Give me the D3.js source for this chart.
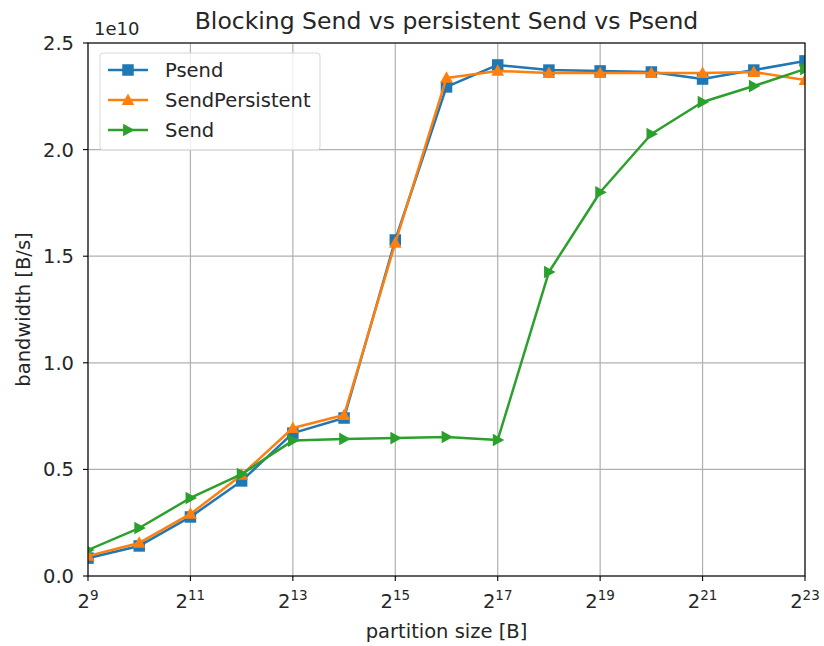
<!DOCTYPE html>
<html>
<head>
<meta charset="utf-8">
<script src="https://cdn.jsdelivr.net/npm/d3@7"></script>
<style>
  html, body { margin: 0; padding: 0; background: #fff; }
  svg text { font-family: "DejaVu Sans", sans-serif; fill: #262626; }
</style>
</head>
<body>
<svg id="chart" width="824" height="646"></svg>
<script>
// Partition sizes as powers of two (exponents)
const exponents = [9, 10, 11, 12, 13, 14, 15, 16, 17, 18, 19, 20, 21, 22, 23];

// Bandwidth in B/s
const psend = [0.084e10, 0.141e10, 0.277e10, 0.446e10, 0.670e10, 0.741e10, 1.576e10, 2.294e10,
               2.397e10, 2.373e10, 2.369e10, 2.364e10, 2.331e10, 2.373e10, 2.416e10];
const sendPersistent = [0.094e10, 0.155e10, 0.291e10, 0.474e10, 0.694e10, 0.755e10, 1.562e10, 2.336e10,
                        2.369e10, 2.359e10, 2.359e10, 2.359e10, 2.359e10, 2.364e10, 2.326e10];
const send = [0.122e10, 0.225e10, 0.366e10, 0.478e10, 0.635e10, 0.643e10, 0.647e10, 0.652e10,
              0.638e10, 1.426e10, 1.800e10, 2.073e10, 2.223e10, 2.298e10, 2.378e10];

const xTickExponents = [9, 11, 13, 15, 17, 19, 21, 23];
const yTicks = [0, 0.5e10, 1.0e10, 1.5e10, 2.0e10, 2.5e10];
const yTickLabels = ["0.0", "0.5", "1.0", "1.5", "2.0", "2.5"];

const seriesList = [
  { name: "Psend", values: psend, color: "#1f77b4", marker: "square" },
  { name: "SendPersistent", values: sendPersistent, color: "#ff7f0e", marker: "triangleUp" },
  { name: "Send", values: send, color: "#2ca02c", marker: "triangleRight" }
];

const svg = d3.select("#chart");
const margin = { left: 88, right: 19, top: 43, bottom: 70 };
const W = 824, H = 646;
const plotW = W - margin.left - margin.right;
const plotH = H - margin.top - margin.bottom;
const fs = "19.5px";

const x = d3.scaleLog().base(2).domain([2 ** 9, 2 ** 23]).range([0, plotW]);
const y = d3.scaleLinear().domain([0, 2.5e10]).range([plotH, 0]);

const g = svg.append("g").attr("transform", `translate(${margin.left},${margin.top})`);

svg.append("defs").append("clipPath").attr("id", "plotClip")
  .append("rect").attr("x", 0).attr("y", 0).attr("width", plotW).attr("height", plotH);

// Grid
const grid = g.append("g");
xTickExponents.forEach(e => {
  grid.append("line")
    .attr("x1", x(2 ** e)).attr("x2", x(2 ** e))
    .attr("y1", 0).attr("y2", plotH)
    .attr("stroke", "#b0b0b0").attr("stroke-width", 1.2);
});
yTicks.forEach(v => {
  grid.append("line")
    .attr("x1", 0).attr("x2", plotW)
    .attr("y1", y(v)).attr("y2", y(v))
    .attr("stroke", "#b0b0b0").attr("stroke-width", 1.2);
});

// Marker shapes
const ms = 11.5;
function markerPath(type, s) {
  const h = s / 2;
  if (type === "square") return `M${-h},${-h}H${h}V${h}H${-h}Z`;
  if (type === "triangleUp") return `M0,${-h * 1.15}L${h * 1.1},${h * 0.85}L${-h * 1.1},${h * 0.85}Z`;
  if (type === "triangleRight") return `M${h * 1.15},0L${-h * 0.85},${-h * 1.1}L${-h * 0.85},${h * 1.1}Z`;
}

// Series
const plot = g.append("g").attr("clip-path", "url(#plotClip)");
const line = d3.line().x(d => x(2 ** d[0])).y(d => y(d[1]));
seriesList.forEach(s => {
  const pts = exponents.map((e, i) => [e, s.values[i]]);
  const sg = plot.append("g");
  sg.append("path").datum(pts)
    .attr("d", line).attr("fill", "none")
    .attr("stroke", s.color).attr("stroke-width", 2.5)
    .attr("stroke-linejoin", "round").attr("stroke-linecap", "square");
  sg.selectAll("path.m").data(pts).enter().append("path")
    .attr("class", "m")
    .attr("transform", d => `translate(${x(2 ** d[0])},${y(d[1])})`)
    .attr("d", markerPath(s.marker, ms))
    .attr("fill", s.color);
});

// Spines
g.append("rect").attr("x", 0).attr("y", 0).attr("width", plotW).attr("height", plotH)
  .attr("fill", "none").attr("stroke", "#000").attr("stroke-width", 1.1);

// X axis ticks with superscript labels
xTickExponents.forEach(e => {
  const px = x(2 ** e);
  g.append("line").attr("x1", px).attr("x2", px).attr("y1", plotH).attr("y2", plotH + 5)
    .attr("stroke", "#000").attr("stroke-width", 1.1);
  const t = g.append("text").attr("x", px).attr("y", plotH + 32)
    .attr("text-anchor", "middle").style("font-size", fs);
  t.append("tspan").text("2");
  t.append("tspan").attr("dy", -8).style("font-size", "13.5px").text(e);
});

// Y axis ticks
yTicks.forEach((v, i) => {
  g.append("line").attr("x1", -5).attr("x2", 0).attr("y1", y(v)).attr("y2", y(v))
    .attr("stroke", "#000").attr("stroke-width", 1.1);
  g.append("text").attr("x", -14).attr("y", y(v)).attr("dy", "0.36em")
    .attr("text-anchor", "end").style("font-size", fs).text(yTickLabels[i]);
});

// Offset label
g.append("text").attr("x", 6).attr("y", -8).style("font-size", "18px").text("1e10");

// Axis titles
svg.append("text").attr("x", margin.left + plotW / 2).attr("y", 638)
  .attr("text-anchor", "middle").style("font-size", fs).text("partition size [B]");
svg.append("text").attr("transform", `translate(30,${margin.top + plotH / 2}) rotate(-90)`)
  .attr("text-anchor", "middle").style("font-size", fs).text("bandwidth [B/s]");

// Title
svg.append("text").attr("x", margin.left + plotW / 2).attr("y", 29)
  .attr("text-anchor", "middle").style("font-size", "23.5px").text("Blocking Send vs persistent Send vs Psend");

// Legend
const lg = g.append("g").attr("transform", "translate(12,10)");
lg.append("rect").attr("x", 0).attr("y", 0).attr("width", 220).attr("height", 97)
  .attr("rx", 3).attr("fill", "#fff").attr("fill-opacity", 0.8)
  .attr("stroke", "#d6d6d6").attr("stroke-width", 1);
seriesList.forEach((s, i) => {
  const cy = 17 + i * 30;
  lg.append("line").attr("x1", 8).attr("x2", 48).attr("y1", cy).attr("y2", cy)
    .attr("stroke", s.color).attr("stroke-width", 2.5);
  lg.append("path").attr("transform", `translate(28,${cy})`)
    .attr("d", markerPath(s.marker, ms)).attr("fill", s.color);
  lg.append("text").attr("x", 65).attr("y", cy).attr("dy", "0.36em")
    .style("font-size", fs).text(s.name);
});
</script>
</body>
</html>
